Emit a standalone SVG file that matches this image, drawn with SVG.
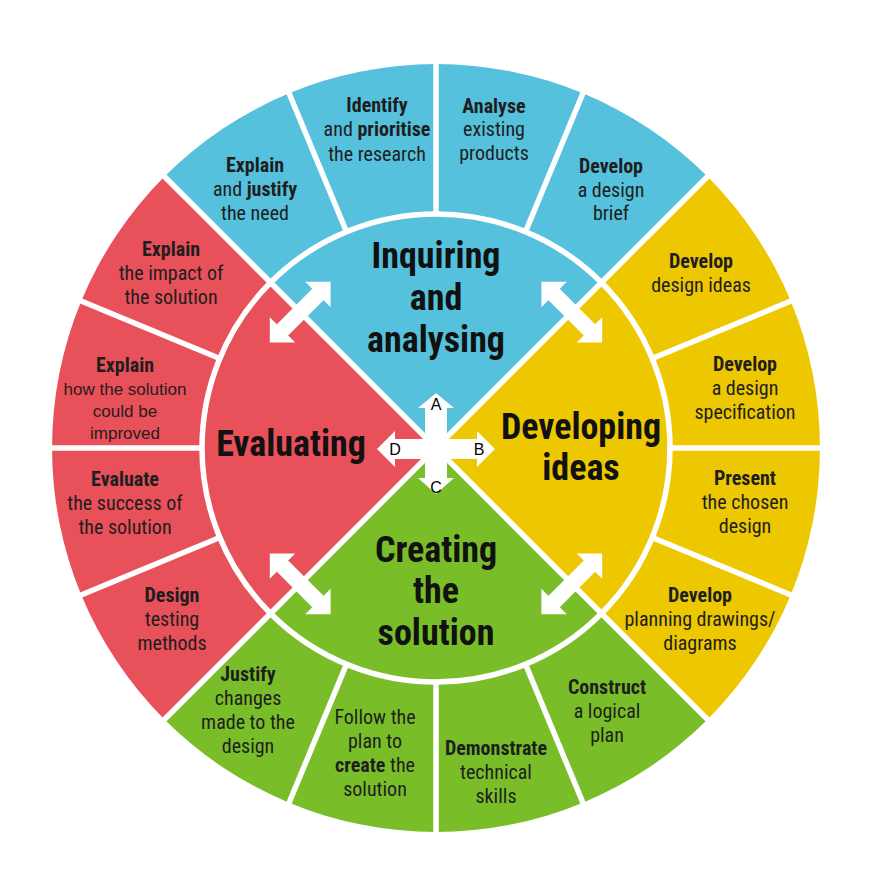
<svg xmlns="http://www.w3.org/2000/svg" width="891" height="887" viewBox="0 0 891 887">
<defs>
<style>
.t{font-family:"Liberation Sans Narrow","Roboto Condensed","DejaVu Sans Condensed","Liberation Sans",Arial,sans-serif;font-size:20px;fill:#1e1e1e;text-anchor:middle}
.b{font-weight:bold}
.h{font-family:"Liberation Sans Narrow","Roboto Condensed","DejaVu Sans Condensed","Liberation Sans",Arial,sans-serif;font-size:36px;font-weight:bold;fill:#111;text-anchor:middle}
.ar{font-family:"Liberation Sans",Arial,sans-serif;font-size:17px;fill:#2a1c1c;text-anchor:middle}
.lt{font-family:"Liberation Sans",Arial,sans-serif;font-size:16px;fill:#000;text-anchor:middle}
.gap{stroke:#fff;stroke-width:5.5;fill:none}
.blue{fill:#55C1DC}.yel{fill:#EDC700}.grn{fill:#79BE29}.red{fill:#E8505A}
</style>
<polygon id="dbl" points="-43,0 -25,-18 -25,-8 25,-8 25,-18 43,0 25,18 25,8 -25,8 -25,18" fill="#fff"/>
</defs>
<rect width="891" height="887" fill="#fff"/>

<g id="quadrants">
<path id="q-inquiring" class="blue" d="M436,448 L164.5,176.5 A384,384 0 0 1 707.5,176.5 Z"/>
<path id="q-developing" class="yel" d="M436,448 L707.5,176.5 A384,384 0 0 1 707.5,719.5 Z"/>
<path id="q-creating" class="grn" d="M436,448 L707.5,719.5 A384,384 0 0 1 164.5,719.5 Z"/>
<path id="q-evaluating" class="red" d="M436,448 L164.5,719.5 A384,384 0 0 1 164.5,176.5 Z"/>
</g>

<g id="gaps">
<circle class="gap" cx="436" cy="448" r="234"/>
<line class="gap" x1="436" y1="214" x2="436" y2="58"/>
<line class="gap" x1="525.5" y1="231.8" x2="585.2" y2="87.7"/>
<line class="gap" x1="652.2" y1="358.5" x2="796.3" y2="298.8"/>
<line class="gap" x1="670" y1="448" x2="826" y2="448"/>
<line class="gap" x1="652.2" y1="537.5" x2="796.3" y2="597.2"/>
<line class="gap" x1="525.5" y1="664.2" x2="585.2" y2="808.3"/>
<line class="gap" x1="436" y1="682" x2="436" y2="838"/>
<line class="gap" x1="346.5" y1="664.2" x2="286.8" y2="808.3"/>
<line class="gap" x1="219.8" y1="537.5" x2="75.7" y2="597.2"/>
<line class="gap" x1="202" y1="448" x2="46" y2="448"/>
<line class="gap" x1="219.8" y1="358.5" x2="75.7" y2="298.8"/>
<line class="gap" x1="346.5" y1="231.8" x2="286.8" y2="87.7"/>
<line class="gap" x1="160.2" y1="172.2" x2="711.8" y2="723.8"/>
<line class="gap" x1="711.8" y1="172.2" x2="160.2" y2="723.8"/>
</g>

<g id="node-inquiring"><text class="h"><tspan x="436" y="268">Inquiring</tspan><tspan x="436" y="310">and</tspan><tspan x="436" y="352">analysing</tspan></text></g>
<g id="node-developing"><text class="h"><tspan x="581" y="439">Developing</tspan><tspan x="581" y="480">ideas</tspan></text></g>
<g id="node-creating"><text class="h"><tspan x="436" y="562">Creating</tspan><tspan x="436" y="603">the</tspan><tspan x="436" y="645">solution</tspan></text></g>
<g id="node-evaluating"><text class="h" x="291" y="456">Evaluating</text></g>

<g id="seg-explain-justify"><text class="t"><tspan class="b" x="255" y="172">Explain</tspan><tspan x="255" y="196">and <tspan class="b">justify</tspan></tspan><tspan x="255" y="220">the need</tspan></text></g>
<g id="seg-identify"><text class="t"><tspan class="b" x="377" y="112">Identify</tspan><tspan x="377" y="136">and <tspan class="b">prioritise</tspan></tspan><tspan x="377" y="161">the research</tspan></text></g>
<g id="seg-analyse"><text class="t"><tspan class="b" x="494" y="113">Analyse</tspan><tspan x="494" y="136">existing</tspan><tspan x="494" y="160">products</tspan></text></g>
<g id="seg-brief"><text class="t"><tspan class="b" x="611" y="173">Develop</tspan><tspan x="611" y="197">a design</tspan><tspan x="611" y="220">brief</tspan></text></g>

<g id="seg-design-ideas"><text class="t"><tspan class="b" x="701" y="268">Develop</tspan><tspan x="701" y="292">design ideas</tspan></text></g>
<g id="seg-specification"><text class="t"><tspan class="b" x="745" y="371">Develop</tspan><tspan x="745" y="395">a design</tspan><tspan x="745" y="419">specification</tspan></text></g>
<g id="seg-present"><text class="t"><tspan class="b" x="745" y="485">Present</tspan><tspan x="745" y="509">the chosen</tspan><tspan x="745" y="533">design</tspan></text></g>
<g id="seg-planning"><text class="t"><tspan class="b" x="700" y="602">Develop</tspan><tspan x="700" y="626">planning drawings/</tspan><tspan x="700" y="650">diagrams</tspan></text></g>

<g id="seg-construct"><text class="t"><tspan class="b" x="607" y="694">Construct</tspan><tspan x="607" y="718">a logical</tspan><tspan x="607" y="742">plan</tspan></text></g>
<g id="seg-demonstrate"><text class="t"><tspan class="b" x="496" y="755">Demonstrate</tspan><tspan x="496" y="779">technical</tspan><tspan x="496" y="803">skills</tspan></text></g>
<g id="seg-follow"><text class="t"><tspan x="375" y="724">Follow the</tspan><tspan x="375" y="748">plan to</tspan><tspan x="375" y="772"><tspan class="b">create</tspan> the</tspan><tspan x="375" y="796">solution</tspan></text></g>
<g id="seg-justify"><text class="t"><tspan class="b" x="248" y="681">Justify</tspan><tspan x="248" y="705">changes</tspan><tspan x="248" y="729">made to the</tspan><tspan x="248" y="753">design</tspan></text></g>

<g id="seg-testing"><text class="t"><tspan class="b" x="172" y="602">Design</tspan><tspan x="172" y="626">testing</tspan><tspan x="172" y="650">methods</tspan></text></g>
<g id="seg-evaluate"><text class="t"><tspan class="b" x="125" y="486">Evaluate</tspan><tspan x="125" y="510">the success of</tspan><tspan x="125" y="534">the solution</tspan></text></g>
<g id="seg-improved"><text class="t b" x="125" y="372">Explain</text><text class="ar"><tspan x="125" y="395">how the solution</tspan><tspan x="125" y="417">could be</tspan><tspan x="125" y="439">improved</tspan></text></g>
<g id="seg-impact"><text class="t"><tspan class="b" x="171" y="256">Explain</tspan><tspan x="171" y="280">the impact of</tspan><tspan x="171" y="304">the solution</tspan></text></g>

<g id="connectors">
<use href="#dbl" transform="translate(300.2,312.2) rotate(-45)"/>
<use href="#dbl" transform="translate(571.8,312.2) rotate(45)"/>
<use href="#dbl" transform="translate(571.8,583.8) rotate(-45)"/>
<use href="#dbl" transform="translate(300.2,583.8) rotate(45)"/>
<path id="cross" fill="#fff" d="M436,393 L454,408 L447,408 L447,439 L477,439 L477,431 L495,449 L477,467 L477,459 L447,459 L447,478 L454,478 L436,494 L418,478 L425,478 L425,459 L395,459 L395,467 L377,449 L395,431 L395,439 L425,439 L425,408 L418,408 Z"/>
<text class="lt" x="436" y="410">A</text>
<text class="lt" x="479" y="455">B</text>
<text class="lt" x="436" y="493">C</text>
<text class="lt" x="395" y="455">D</text>
</g>
</svg>
